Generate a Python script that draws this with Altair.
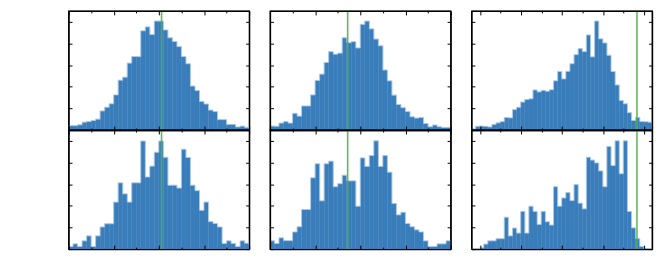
import altair as alt
import pandas as pd

# bar heights (in units of the y tick spacing)
p1 = [0.20, 0.20, 0.24, 0.36, 0.39, 0.44, 0.50, 0.88, 1.05, 1.21,
      1.62, 2.30, 2.44, 3.09, 3.39, 3.39, 4.58, 4.76, 4.41, 5.03,
      5.03, 4.62, 4.26, 4.09, 3.85, 3.39, 3.06, 2.03, 1.82, 1.32,
      1.20, 0.92, 0.85, 0.48, 0.48, 0.26, 0.26, 0.14, 0.18, 0.12]
p2 = [0.18, 0.17, 0.32, 0.39, 0.32, 0.77, 0.64, 1.11, 1.11, 1.62,
      2.29, 2.58, 3.12, 3.62, 3.50, 3.55, 4.26, 4.03, 4.08, 3.79,
      4.88, 5.03, 4.67, 4.20, 3.89, 2.77, 2.27, 1.61, 1.18, 1.03,
      0.85, 0.61, 0.55, 0.58, 0.30, 0.15, 0.23, 0.15, 0.12, 0.12]
p3 = [0.05, 0.17, 0.18, 0.17, 0.14, 0.26, 0.33, 0.39, 0.58, 0.56,
      0.94, 1.05, 1.29, 1.41, 1.44, 1.85, 1.76, 1.83, 1.79, 1.86,
      2.27, 2.70, 2.36, 2.71, 3.06, 3.48, 3.76, 3.62, 4.39, 3.38,
      5.03, 4.21, 4.02, 3.45, 2.70, 2.08, 1.36, 1.21, 0.80, 0.44,
      0.58, 0.39, 0.38, 0.36]
p4 = [0.12, 0.24, 0.12, 0.38, 0.61, 0.12, 0.61, 1.02, 1.17, 1.17,
      2.17, 3.06, 2.55, 2.17, 3.06, 3.06, 4.99, 3.33, 3.83, 4.47,
      4.99, 4.24, 2.95, 2.95, 2.82, 4.61, 4.23, 2.95, 2.70, 1.79,
      2.17, 1.27, 1.18, 1.02, 0.26, 0.38, 0.26, 0.12, 0.38, 0.27]
p5 = [0.38, 0.26, 0.52, 0.39, 0.39, 0.79, 1.03, 1.83, 1.83, 3.29,
      3.94, 2.23, 3.94, 4.06, 2.88, 3.02, 3.41, 3.15, 3.15, 1.98,
      4.21, 3.82, 4.32, 5.00, 3.82, 4.32, 3.55, 2.11, 1.58, 1.70,
      1.18, 1.03, 0.89, 0.79, 0.38, 0.12, 0.12, 0.24, 0.24, 0.38]
p6 = [0.00, 0.00, 0.06, 0.23, 0.38, 0.38, 0.48, 0.48, 1.47, 0.61,
      0.97, 0.74, 1.74, 0.74, 1.98, 1.74, 1.14, 1.74, 1.26, 1.11,
      2.88, 1.98, 2.36, 2.61, 2.24, 2.98, 2.12, 1.86, 4.24, 4.11,
      3.98, 3.61, 2.88, 4.74, 3.86, 5.00, 3.48, 5.00, 1.74, 0.98,
      0.48, 0.12, 0.00, 0.00]

# bin start positions and x-domains per column
col_start = [0.0, 0.0, -2.08]
col_domain = [[0, 40], [0, 40], [-2.08, 41.92]]
green = [20.6, 17.2, 38.24]
x_ticks = [0, 5, 10, 15, 20, 25, 30, 35, 40]
y_ticks = [0, 1, 2, 3, 4, 5]
y_top = 5.5

BAR = "#3a7dbb"
EDGE = "#c4dbef"
GREEN = "#52b04c"


def xaxis(orient):
    return alt.Axis(orient=orient, values=x_ticks, labels=False, title=None,
                    grid=False, domain=True, domainColor="black", domainWidth=1.3,
                    tickColor="black", tickWidth=1, zindex=1,
                    minExtent=0, maxExtent=0, offset=0,
                    tickSize={"expr": "datum.value % 10 === 0 ? -4 : -2"})


def yaxis(orient):
    return alt.Axis(orient=orient, values=y_ticks, labels=False, title=None,
                    grid=False, domain=True, domainColor="black", domainWidth=1.3,
                    tickColor="black", tickWidth=1, zindex=1,
                    minExtent=0, maxExtent=0, offset=0,
                    tickSize={"expr": "-3.5"})


def panel(heights, col):
    n = len(heights)
    s = col_start[col]
    df = pd.DataFrame({"x0": [s + i for i in range(n)],
                       "x1": [s + i + 1 for i in range(n)],
                       "h": heights,
                       "z": [0.0] * n})
    # outline of the histogram (step line over the bar tops)
    sdf = pd.DataFrame({"x": [s + i for i in range(n + 1)],
                        "h": list(heights) + [heights[-1]]})
    xs = alt.Scale(domain=col_domain[col], nice=False, zero=False)
    ys = alt.Scale(domain=[0, y_top], nice=False)
    bars = alt.Chart(df).mark_bar(color=BAR, stroke=BAR, strokeWidth=0.4).encode(
        x=alt.X("x0:Q", scale=xs, axis=xaxis("bottom")),
        x2="x1",
        y=alt.Y("h:Q", scale=ys, axis=yaxis("left")),
        y2="z",
    )
    edge = alt.Chart(sdf).mark_line(color=EDGE, strokeWidth=0.8, interpolate="step-after",
                                    opacity=0.85).encode(
        x=alt.X("x:Q", scale=xs, axis=None),
        y=alt.Y("h:Q", scale=ys, axis=None),
        order="x:Q",
    )
    gdf = pd.DataFrame({"g": [green[col]], "y0": [0], "y1": [y_top]})
    rule = alt.Chart(gdf).mark_rule(color=GREEN, strokeWidth=1.6, opacity=0.9).encode(
        x=alt.X("g:Q", scale=xs, axis=xaxis("top")),
        y=alt.Y("y0:Q", scale=ys, axis=yaxis("right")),
        y2="y1",
    )
    return alt.layer(bars, edge, rule).resolve_axis(x="independent", y="independent").properties(
        width=182, height=120)


panels = [panel(p1, 0), panel(p2, 1), panel(p3, 2),
          panel(p4, 0), panel(p5, 1), panel(p6, 2)]
chart = alt.concat(*panels, columns=3, spacing={"row": 0, "column": 21},
                   bounds="flush").properties(
    padding={"left": 58, "top": 0, "right": 5, "bottom": 5}
).configure_view(stroke="black", strokeWidth=1.3)

chart.save("out.html", embed_options={"renderer": "svg", "actions": False})
